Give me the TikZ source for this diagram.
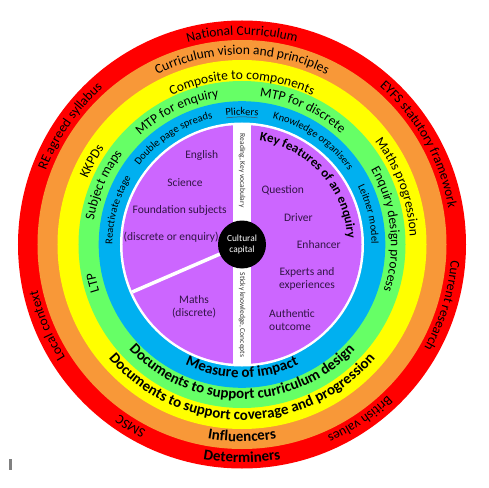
\documentclass[tikz,border=0pt]{standalone}
\usepackage{fontspec}
\setmainfont{Carlito}
\usepackage{tikz}
\usetikzlibrary{decorations.text}

\definecolor{ringred}{RGB}{255,0,0}
\definecolor{ringorange}{RGB}{248,152,56}
\definecolor{ringyellow}{RGB}{255,255,0}
\definecolor{ringgreen}{RGB}{102,255,102}
\definecolor{ringblue}{RGB}{0,176,240}
\definecolor{corepurple}{RGB}{204,102,255}
\definecolor{coretext}{RGB}{50,20,70}

\newcommand{\ringfont}{\fontsize{13.5}{16}\selectfont}
\newcommand{\smallringfont}{\fontsize{10.5}{12}\selectfont}
\newcommand{\headfont}{\fontsize{15}{18}\selectfont\bfseries}
\newcommand{\keyfont}{\fontsize{13}{15}\selectfont\bfseries}

% text round a ring, clockwise (upright at the top)
\newcommand{\cwlabel}[4]{%
  \path[decorate,decoration={text along path,text align=center,text={|#3|#4}}]
    (#2+85:#1) arc[start angle=#2+85,end angle=#2-85,radius=#1];}
% text round a ring, anticlockwise (upright at the bottom)
\newcommand{\ccwlabel}[4]{%
  \path[decorate,decoration={text along path,text align=center,text={|#3|#4}}]
    (#2-85:#1) arc[start angle=#2-85,end angle=#2+85,radius=#1];}

\tikzset{
  coretext/.style={text=coretext,font=\fontsize{11.5}{13.4}\selectfont,inner sep=0pt},
  bandtext/.style={rotate=-90,text=black!80,font=\fontsize{7.5}{9}\selectfont,inner sep=0pt},
}

\begin{document}
\begin{tikzpicture}[x=1pt,y=1pt]
		\fill[white] (-242,-242.5) rectangle (247,244.5);
		\useasboundingbox (-242,-242.5) rectangle (247,244.5);
		% the rings
		\fill[ringred] (0,0) circle (224);
		\fill[ringorange] (0,0) circle (204.5);
		\fill[ringyellow] (0,0) circle (184.5);
		\fill[ringgreen] (0,0) circle (163.5);
		\fill[ringblue] (0,0) circle (143.3);
		\fill[white] (0,0) circle (122);
		\fill[corepurple] (0,0) circle (119.5);
		\fill[white] (-9,-120) rectangle (9,120);
		%% red ring
		\cwlabel{209.5}{90}{\ringfont}{National Curriculum}
		\cwlabel{209.5}{29.5}{\ringfont}{EYFS statutory framework}
		\cwlabel{209.5}{-17}{\ringfont}{Current research}
		\cwlabel{209.5}{-56}{\ringfont}{British values}
		\cwlabel{209.5}{238.5}{\ringfont}{SMSC}
		\cwlabel{209.5}{202.6}{\ringfont}{Local context}
		\cwlabel{209.5}{145.5}{\ringfont}{RE agreed syllabus}
		\ccwlabel{218}{270}{\headfont}{Determiners}
		%% orange ring
		\cwlabel{190}{90}{\ringfont}{Curriculum vision and principles}
		\ccwlabel{197}{270}{\headfont}{Influencers}
		%% yellow ring
		\cwlabel{165}{90}{\ringfont}{Composite to components}
		\cwlabel{168}{20.3}{\ringfont}{Maths progression}
		\cwlabel{168}{151}{\ringfont}{KKPDs}
		\ccwlabel{175.5}{270}{\headfont}{Documents to support coverage and progression}
		%% green ring
		\cwlabel{149}{116}{\ringfont}{MTP for enquiry}
		\cwlabel{149}{65.7}{\ringfont}{MTP for discrete}
		\cwlabel{149}{6}{\ringfont}{Enquiry design process}
		\cwlabel{150}{156.8}{\ringfont}{Subject maps}
		\cwlabel{150}{194.5}{\ringfont}{LTP}
		\ccwlabel{154.5}{270}{\headfont}{Documents to support curriculum design}
		%% blue ring
		\cwlabel{129.5}{90}{\smallringfont}{Plickers}
		\draw[black!70,line width=0.5pt] (97:127.6) arc[start angle=97,end angle=83,radius=127.6];
		\cwlabel{129.5}{122.8}{\smallringfont}{Double page spreads}
		\cwlabel{129.5}{55.5}{\smallringfont}{Knowledge organisers}
		\cwlabel{129.5}{13.5}{\smallringfont}{Leitner model}
		\cwlabel{129.5}{164.5}{\smallringfont}{Reactivate stage}
		\ccwlabel{133}{270}{\headfont}{Measure of impact}
		%% the core
		\cwlabel{105.5}{41.9}{\keyfont}{Key features of an enquiry}
		\node[coretext] (english) at (-40.3,89.5) {English};
		\node[coretext] (science) at (-57,62.2) {Science};
		\node[coretext] (foundation) at (-62.3,34.5) {Foundation subjects};
		\node[coretext] (discenq) at (-70.8,7.2) {(discrete or enquiry)};
		\node[coretext,align=center] (maths) at (-48,-62.2) {Maths\\(discrete)};
		\node[coretext] (question) at (40.8,53.8) {Question};
		\node[coretext] (driver) at (56.3,26.8) {Driver};
		\node[coretext] (enhancer) at (76.8,-0.5) {Enhancer};
		\node[coretext,align=center] (experts) at (65,-34.5) {Experts and\\experiences};
		\node[coretext,align=left] (authentic) at (50,-75.5) {Authentic\\outcome};
		\node[bandtext] (reading) at (0,73.8) {Reading, Key vocabulary};
		\node[bandtext] (sticky) at (0,-70.5) {Sticky knowledge, Concepts};
		\node[circle,fill=black,minimum size=48pt,inner sep=0pt,text=white,align=center,
			font=\fontsize{9.4}{11.6}\selectfont] (capital) at (0,0) {Cultural\\capital};
		\coordinate (split) at (203.4:119.5);
		\draw[white,line width=3.5pt] (capital) -- (split);
		% the mark at the bottom left
		\fill[gray] (-232.7,-214.5) rectangle (-230,-225.5);
\end{tikzpicture}
\end{document}
